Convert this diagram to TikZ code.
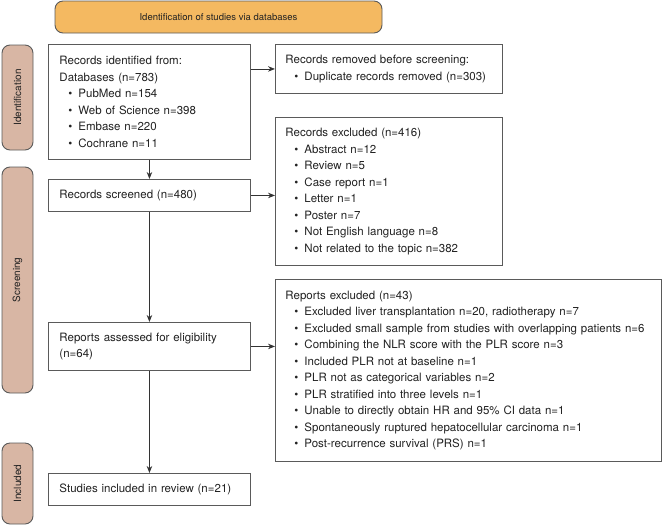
\documentclass[tikz,border=0pt]{standalone}
\usepackage{fontspec}
\setmainfont{TeX Gyre Heros}
\usetikzlibrary{arrows.meta}
\definecolor{bannerfill}{HTML}{F4B961}
\definecolor{sidefill}{HTML}{D8B6A4}
\definecolor{edgegray}{HTML}{5A5A5A}
\definecolor{txt}{HTML}{222222}
\newcommand{\bul}{\makebox[19pt][l]{\hspace{9pt}\textbullet}}
\tikzset{
  box/.style={draw=edgegray, line width=0.9pt, fill=white, anchor=north west, align=left,
    inner ysep=0pt, text=txt, font=\fontsize{11.5pt}{16.5pt}\selectfont},
  sidelabel/.style={draw=edgegray, line width=0.9pt, fill=sidefill, rounded corners=8pt, rotate=90,
    minimum height=31pt, inner sep=0pt, text=txt, font=\fontsize{10pt}{12pt}\selectfont},
  banner/.style={draw=edgegray, line width=0.9pt, fill=bannerfill, rounded corners=8pt,
    minimum width=327pt, minimum height=32pt, inner sep=0pt, text=txt, font=\fontsize{9.5pt}{11pt}\selectfont},
  arr/.style={draw=black!80, line width=0.8pt, -{Stealth[length=7pt,width=5.5pt]}}
}
\begin{document}
\begin{tikzpicture}[x=1pt,y=-1pt]
\useasboundingbox (0,0) rectangle (663,525);

\node[banner] (banner) at (218.5,17) {Identification of studies via databases};

\node[sidelabel, minimum width=105pt] (sideid) at (17.5,97.5) {Identification};
\node[sidelabel, minimum width=226pt] (sidescr) at (17.5,280) {Screening};
\node[sidelabel, minimum width=81pt] (sideinc) at (17.5,483.5) {Included};

\node[box, inner xsep=11pt, text width=180pt, minimum width=202pt, minimum height=115pt] (ident) at (48,44)
  {Records identified from:\\Databases (n=783)\\\bul PubMed n=154\\\bul Web of Science n=398\\\bul Embase n=220\\\bul Cochrane n=11};

\node[box, inner xsep=10pt, text width=207pt, minimum width=227pt, minimum height=49pt] (removed) at (275,44)
  {Records removed before screening:\\\bul Duplicate records removed (n=303)};

\node[box, inner xsep=11pt, text width=180pt, minimum width=202pt, minimum height=32pt] (screened) at (48,179)
  {Records screened (n=480)};

\node[box, inner xsep=10pt, text width=207pt, minimum width=227pt, minimum height=148pt] (excl) at (275,117)
  {Records excluded (n=416)\\\bul Abstract n=12\\\bul Review n=5\\\bul Case report n=1\\\bul Letter n=1\\\bul Poster n=7\\\bul Not English language n=8\\\bul Not related to the topic n=382};

\node[box, inner xsep=11pt, text width=180pt, minimum width=202pt, minimum height=48pt] (assessed) at (48,322)
  {Reports assessed for eligibility\\(n=64)};

\node[box, inner xsep=10pt, text width=366pt, minimum width=386pt, minimum height=182pt] (repexcl) at (275,279)
  {Reports excluded (n=43)\\
   \bul Excluded liver transplantation n=20, radiotherapy n=7\\
   \bul Excluded small sample from studies with overlapping patients n=6\\
   \bul Combining the NLR score with the PLR score n=3\\
   \bul Included PLR not at baseline n=1\\
   \bul PLR not as categorical variables n=2\\
   \bul PLR stratified into three levels n=1\\
   \bul Unable to directly obtain HR and 95\% CI data n=1\\
   \bul Spontaneously ruptured hepatocellular carcinoma n=1\\
   \bul Post-recurrence survival (PRS) n=1};

\node[box, inner xsep=11pt, text width=180pt, minimum width=202pt, minimum height=32pt] (included) at (48,473)
  {Studies included in review (n=21)};

\draw[arr] (ident.south) -- (screened.north);
\draw[arr] (screened.south) -- (assessed.north);
\draw[arr] (assessed.south) -- (included.north);
\draw[arr] (removed.west -| ident.east) -- (removed.west);
\draw[arr] (screened.east) -- (screened.east -| excl.west);
\draw[arr] (assessed.east) -- (assessed.east -| repexcl.west);
\end{tikzpicture}
\end{document}
